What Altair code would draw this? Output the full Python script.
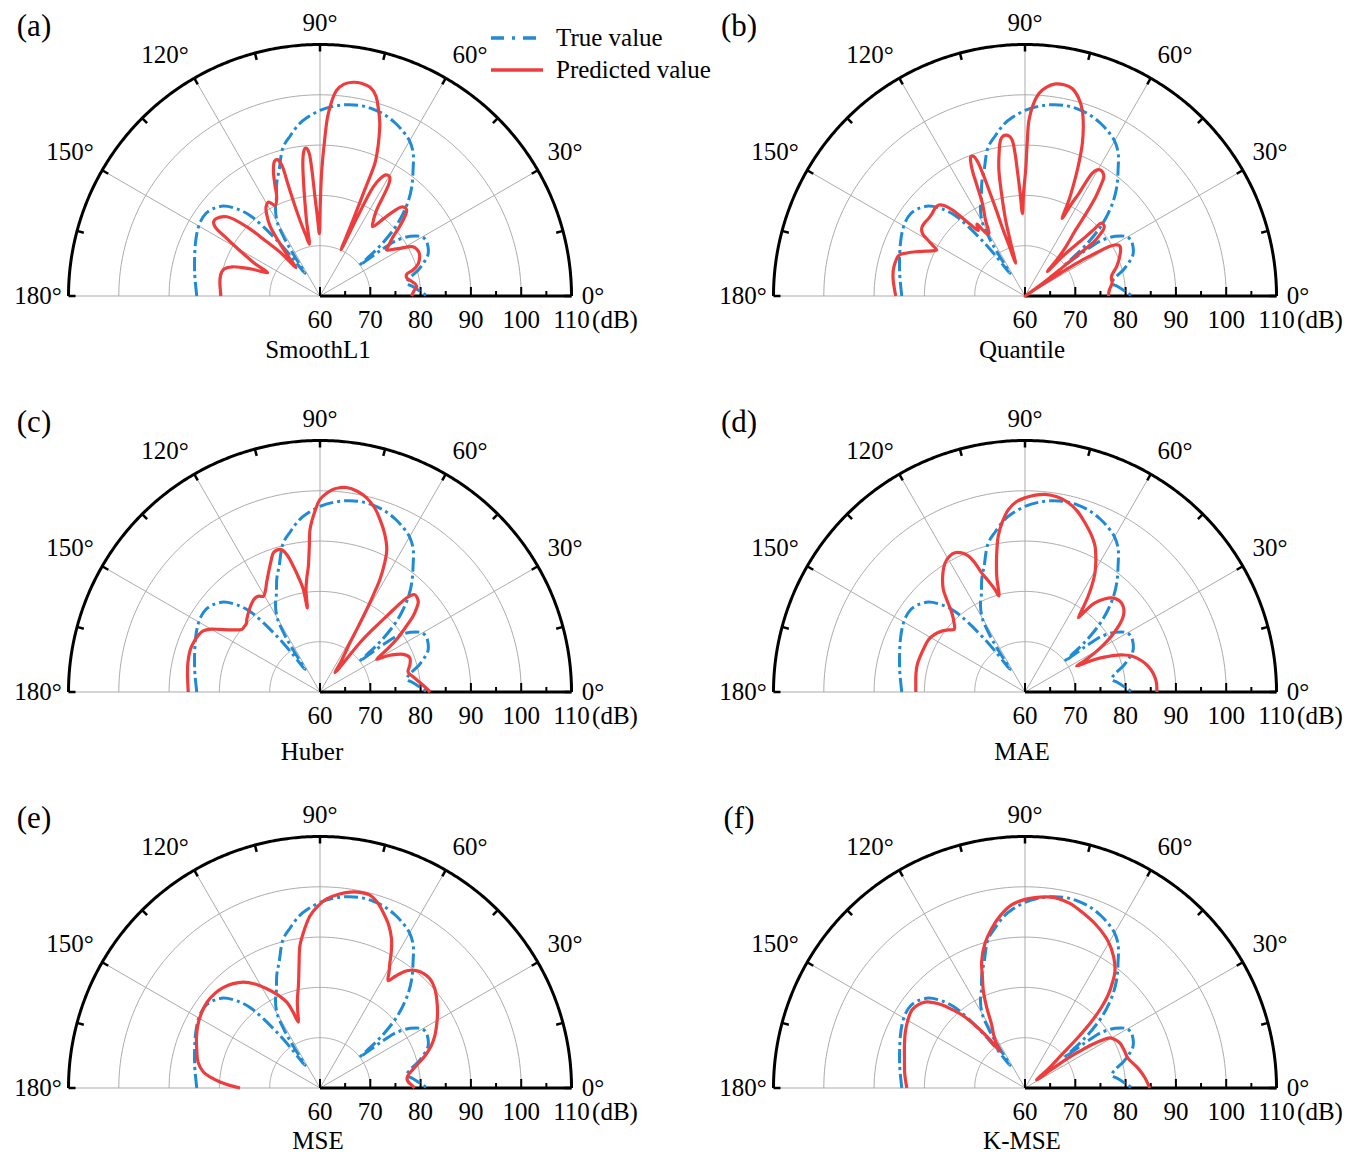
import altair as alt
import pandas as pd

# ---------------------------------------------------------------- style / layout
K = 5.03            # pixels per dB along the radius
CX, CY = 312, 288   # position of the polar centre inside each cell (px)
FONT = "Liberation Serif"
BLUE = "#1f8bd5"
RED = "#ee3d3d"
GRID = "#ababab"

# ---------------------------------------------------------------- axes content
ANGLE_LABELS = ["0°", "30°", "60°", "90°", "120°", "150°", "180°"]
ANGLE_LABEL_OFFSET_PX = [(273, 0), (245, 144), (150, 241), (0, 273),
                         (-155, 241), (-250, 144), (-282, 0)]
SPOKES = [30, 60, 90, 120, 150, 180]
RINGS_DB = [70, 80, 90, 100]
DB_TICKS = [60, 70, 80, 90, 100, 110]
DB_MINOR = [65, 75, 85, 95, 105]
ARC_TICKS = [0, 15, 30, 45, 60, 75, 90, 105, 120, 135, 150, 165, 180]

# ---------------------------------------------------------------- data: (angle deg, level dB)
TRUE_VALUE = [
    (180, 84.5), (172, 85.1), (168, 85.5), (162, 86.2), (157, 86.9), (152, 87.6), (148, 88.0),
    (144, 88.0), (141, 87.5), (137, 86.2), (133, 83.4), (130.7, 80.8), (129.3, 77.8),
    (127.5, 73.5), (126, 69.5), (123.5, 65.4), (122.6, 69.5), (121.7, 73.5), (120, 77.0),
    (117, 79.5), (114, 81.3), (111, 84.0), (108, 86.3), (104, 90.4), (100.5, 92.4), (97, 94.4),
    (94, 95.6), (90, 96.9), (86, 97.8), (82, 98.4), (78, 98.7), (74, 98.6), (70, 98.2),
    (66.5, 97.5), (63, 96.6), (60, 95.6), (57, 94.0), (53.5, 91.1), (50, 88.4), (47.2, 85.9),
    (44.2, 82.6), (42, 79.6), (39.8, 75.5), (38.6, 72.0), (37.8, 70.0), (37.2, 73.5),
    (36.8, 76.0), (36, 78.8), (33.5, 81.5), (30.5, 83.3), (28, 83.8), (24.5, 83.6), (21, 83.0),
    (18.5, 82.0), (14.8, 80.2), (11.5, 78.3), (8.5, 77.4), (5.7, 78.6), (3, 79.8), (0, 81.3),
]

PRED_SMOOTHL1 = [
    (180, 79.7), (172, 80.1), (168, 80.2), (164.6, 79.9), (161.5, 78.3), (160, 76.5), (158.2, 74.2),
    (156.1, 71.4), (153.5, 74.5), (151.8, 76.5), (150, 79.0), (148.3, 81.8), (146.6, 85.0),
    (145, 85.8), (143.1, 85.7), (139.6, 84.3), (136.6, 80.0), (134.5, 75.1), (132.3, 71.8),
    (130.3, 67.4), (128.6, 70.5), (127.2, 73.5), (125.6, 77.0), (123, 79.5), (121.2, 80.7),
    (118.7, 81.3), (116.3, 80.1), (113.6, 81.5), (112, 84.0), (110.3, 86.7), (108.6, 88.3),
    (107.4, 88.4), (106.3, 87.2), (106, 83.0), (105.6, 79.0), (104.6, 75.0), (103.2, 72.5),
    (101.6, 70.5), (100.2, 75.0), (99.2, 78.6), (98.3, 82.5), (97.4, 86.5), (96.6, 88.6),
    (95.8, 89.5), (95, 89.4), (94.3, 88.4), (93.6, 84.5), (92.9, 79.7), (91.8, 75.5),
    (90.6, 72.4), (89.8, 78.5), (89.2, 85.0), (88.3, 91.0), (87.4, 96.3), (85.4, 101.0),
    (83.5, 102.4), (81.2, 103.0), (79, 103.1), (76.6, 102.7), (74.5, 101.4), (72.9, 99.3),
    (71, 96.5), (69.6, 93.7), (68.2, 90.5), (67.5, 88.5), (67.1, 82.1), (66.4, 75.6),
    (65.5, 70.1), (64.7, 77.3), (64, 84.1), (62.8, 86.3), (61.5, 87.4), (59.6, 87.4),
    (58.5, 86.3), (57.6, 83.5), (56.6, 80.4), (54.5, 78.2), (52.8, 77.3), (50.5, 80.0),
    (49, 82.3), (47.5, 84.0), (45.8, 84.4), (44.4, 84.1), (42.4, 82.4), (40.5, 80.3),
    (39, 78.7), (36.5, 77.0), (34.6, 76.1), (32.5, 77.3), (30.8, 78.5), (27.9, 80.9),
    (24, 81.5), (21.5, 81.3), (18, 80.5), (15.6, 79.2), (14.2, 77.8), (12, 77.6), (10.1, 78.1),
    (7.5, 79.0), (5.5, 79.3), (3, 78.7), (0, 78.2),
]

PRED_QUANTILE = [
    (180, 85.7), (172, 86.5), (167.4, 86.7), (162, 86.3), (160, 85.0), (157.9, 83.4),
    (155.5, 81.5), (153.5, 80.2), (152.5, 79.8), (151.2, 81.0), (149.8, 82.6), (148.6, 83.9),
    (146.5, 84.6), (144.3, 84.7), (141, 84.6), (138.3, 84.7), (135.5, 85.0), (133.4, 84.9),
    (131.5, 83.9), (130.2, 82.4), (127.6, 78.2), (125.5, 76.0), (123.8, 77.2), (122.3, 75.2),
    (121, 74.3), (119.9, 74.4), (117.5, 77.0), (114.7, 80.3), (113.5, 84.0), (112.7, 87.2),
    (111.9, 89.0), (111.3, 89.7), (110.3, 89.6), (109.5, 88.5), (109, 85.5), (108.8, 82.3),
    (108.5, 78.0), (108.3, 73.9), (107.5, 70.5), (105.9, 66.8), (105, 71.0), (104.3, 75.6),
    (103, 80.5), (101.7, 85.6), (100.3, 88.8), (98.9, 91.4), (97.8, 92.1), (96.8, 92.2),
    (95.6, 91.9), (94.7, 91.1), (94, 88.5), (93.5, 85.1), (92.7, 80.5), (91.8, 76.4),
    (90.8, 80.5), (89.7, 85.0), (89.2, 90.2), (88.7, 95.0), (87.5, 98.2), (86, 100.4),
    (84, 101.8), (81.8, 102.6), (79.5, 102.7), (77.2, 102.3), (75, 100.9), (72.9, 98.7),
    (71, 95.6), (69.4, 92.4), (68.1, 89.0), (67, 85.8), (65.4, 81.0), (64.4, 77.1),
    (63.3, 80.3), (62.3, 83.0), (61.3, 87.8), (60.2, 88.9), (59, 89.2), (57.7, 89.0),
    (56.5, 88.4), (55.5, 86.5), (54.5, 84.2), (53.5, 80.5), (52.5, 76.5), (50.5, 73.0),
    (49.1, 70.3), (47.5, 66.6), (46.5, 70.8), (45.2, 74.0), (44.3, 76.9), (44, 79.0),
    (43.8, 80.9), (42.2, 81.1), (40.6, 80.7), (39.5, 79.5), (38.4, 77.9), (37.8, 72.7),
    (37.2, 69.0), (36.4, 65.9), (35.5, 62.5), (34.5, 60.0), (33.5, 64.0), (32.8, 68.5),
    (32.1, 73.5), (31.2, 76.5), (30.4, 79.4), (29.5, 80.6), (28.5, 81.2), (27, 81.3),
    (24.8, 80.9), (21, 80.0), (17.7, 79.1), (12.6, 77.6), (8.3, 77.5), (4, 76.8), (0, 76.6),
]

PRED_HUBER = [
    (180, 86.2), (172, 86.6), (167.5, 86.9), (163, 87.1), (160.3, 87.1), (156, 86.8),
    (152.4, 86.2), (150, 85.0), (147.9, 83.4), (144.5, 81.3), (141.3, 79.9), (139, 79.9),
    (137, 80.0), (135.2, 80.5), (131, 81.5), (127.4, 82.3), (124.6, 82.7), (122.5, 82.6),
    (120.6, 82.1), (118.5, 82.8), (116, 84.2), (113.4, 85.8), (110.5, 87.8), (108.5, 89.2),
    (106.7, 89.5), (105, 89.3), (103.5, 88.0), (102, 85.6), (100.5, 83.0), (99.2, 80.6),
    (98.6, 76.9), (97.8, 80.5), (96.5, 83.0), (95.3, 85.1), (94.2, 89.0), (93.5, 92.4),
    (91.7, 95.8), (90, 98.3), (88, 99.6), (86.2, 100.4), (84.5, 100.8), (82.6, 101.0),
    (79.5, 100.6), (76.5, 99.7), (73.5, 98.2), (70.8, 96.3), (67.8, 94.0), (64.9, 91.3),
    (63.3, 88.5), (62, 85.4), (61.2, 82.0), (60.5, 78.9), (59.7, 75.0), (58.7, 71.5),
    (55.5, 67.5), (52.1, 64.9), (51, 72.6), (49.8, 76.5), (48.7, 80.1), (47.4, 85.4),
    (46.5, 86.6), (45.8, 87.0), (44, 86.9), (42.3, 86.4), (40.8, 85.3), (39.2, 83.9),
    (36.8, 81.0), (34.5, 78.5), (32.2, 75.5), (30, 73.0), (28.8, 74.5), (27.7, 75.7),
    (24.3, 78.2), (20.9, 79.1), (17, 78.7), (13.5, 78.0), (12.3, 78.0), (9.5, 78.7),
    (6.4, 79.6), (3, 80.8), (0, 81.9),
]

PRED_MAE = [
    (180, 81.7), (175, 81.8), (170, 82.0), (165.5, 82.1), (161.1, 82.0), (156, 81.9),
    (151.4, 81.8), (147.5, 81.3), (143.8, 80.5), (141, 79.6), (138.4, 78.8), (135.5, 79.8),
    (132.8, 81.4), (130.5, 83.8), (128.5, 86.1), (125, 88.5), (121.7, 90.2), (119, 90.9),
    (116.7, 91.0), (114.5, 90.4), (112.6, 89.3), (111.2, 87.5), (110, 85.2), (108, 83.0),
    (106.3, 81.2), (105.2, 79.8), (103.8, 83.5), (101.8, 87.6), (99.7, 91.5), (97.5, 94.2),
    (95.2, 96.4), (92.5, 97.9), (90, 98.6), (87, 99.2), (84.2, 99.5), (80.5, 99.3),
    (77.1, 98.6), (73.8, 97.4), (70.5, 95.7), (67.3, 94.0), (64.4, 92.2), (61.8, 89.8),
    (59.6, 87.5), (58, 85.2), (56.6, 82.8), (55.5, 80.5), (54.3, 78.2), (53.2, 80.5),
    (51.9, 82.5), (49.5, 84.3), (47.4, 85.4), (45, 86.0), (42.7, 86.1), (40.2, 85.7),
    (37.7, 84.7), (35.2, 82.8), (32.9, 80.5), (31, 78.2), (29.3, 75.9), (27.8, 73.5),
    (26.7, 71.5), (25.8, 73.5), (25, 75.3), (23.5, 77.5), (22.2, 79.3), (20.5, 81.0),
    (18.6, 82.4), (15, 84.0), (11.9, 85.0), (8, 85.8), (4, 86.2), (0, 86.2),
]

PRED_MSE = [
    (180, 75.9), (178.5, 77.8), (176.6, 79.9), (174.5, 81.8), (172.2, 83.4), (168, 84.8),
    (163.7, 85.5), (158, 86.5), (152.9, 87.3), (147.5, 87.9), (142.8, 88.2), (138, 88.1),
    (133.8, 87.7), (129.8, 87.0), (125.9, 86.0), (122, 84.4), (118.2, 82.4), (114.5, 80.4),
    (111.2, 78.3), (109.5, 76.0), (108.2, 73.8), (106.5, 75.5), (104.5, 78.0), (101.9, 80.8),
    (99.8, 84.5), (98, 88.6), (95.5, 91.8), (93.3, 94.3), (90.6, 96.2), (88, 97.6),
    (84.5, 98.7), (81.3, 99.4), (78.5, 99.7), (75.5, 99.6), (72.8, 98.6), (70.2, 97.1),
    (67.2, 95.2), (64.4, 92.9), (62.4, 90.6), (60.9, 88.6), (59.2, 86.8), (57.6, 85.3),
    (56, 86.8), (54.3, 88.4), (52.5, 89.5), (50.6, 90.2), (47.8, 90.7), (44.8, 90.8),
    (41, 90.2), (37.4, 89.2), (32.8, 87.8), (28.2, 86.3), (24.5, 85.1), (20.9, 83.7),
    (17, 81.8), (13.2, 79.7), (10.5, 78.5), (8.2, 77.7), (6, 77.4), (3.9, 77.6), (2, 78.2),
    (0, 78.8),
]

PRED_KMSE = [
    (180, 83.5), (173, 84.1), (166, 84.7), (160, 85.5), (154.7, 86.3), (150, 86.9),
    (145.4, 87.3), (142, 86.9), (139.3, 86.2), (137, 84.9), (135, 83.4), (133, 81.4),
    (130.8, 79.2), (129, 76.7), (127.4, 74.2), (125.8, 71.5), (124.3, 68.8), (122.8, 70.5),
    (120.5, 72.3), (117.8, 74.2), (115.5, 77.6), (113.3, 80.9), (110.8, 83.9), (108.9, 86.6),
    (105.5, 89.8), (101.8, 92.4), (98, 94.7), (94.2, 96.5), (90.5, 97.4), (87, 97.9),
    (84, 98.2), (81.1, 98.3), (76.5, 97.8), (72.2, 96.8), (66.5, 95.4), (60.4, 93.5),
    (56, 91.5), (52.4, 89.3), (50.2, 87.1), (48.2, 84.8), (46.5, 82.0), (45, 78.7),
    (43.6, 74.4), (42.2, 69.8), (39.5, 66.2), (35.4, 62.8), (34.9, 66.5), (34.7, 70.5),
    (33.8, 73.3), (33, 75.8), (31.8, 78.0), (30.5, 79.6), (28, 80.4), (25.3, 80.9),
    (20.5, 81.1), (16.2, 81.3), (13, 82.0), (10, 82.8), (5, 83.9), (0, 84.8),
]

# letter, loss name, predicted series, cell width, cell height, title offset (px), legend?
PANELS = [
    ("(a)", "SmoothL1", PRED_SMOOTHL1, 705, 396, (-2, 54), True),
    ("(b)", "Quantile", PRED_QUANTILE, 640, 396, (-3, 54), False),
    ("(c)", "Huber", PRED_HUBER, 705, 396, (-8, 60), False),
    ("(d)", "MAE", PRED_MAE, 640, 396, (-3, 60), False),
    ("(e)", "MSE", PRED_MSE, 705, 350, (-2, 53), False),
    ("(f)", "K-MSE", PRED_KMSE, 640, 350, (-3, 53), False),
]


def pol(ch):
    return ch.transform_calculate(rr="max(datum.db - 60, 0)").transform_calculate(
        x="datum.rr * cos(datum.ang * PI / 180)",
        y="datum.rr * sin(datum.ang * PI / 180)",
    )


def series_df(pairs):
    return pd.DataFrame({"i": list(range(len(pairs))),
                         "ang": [p[0] for p in pairs],
                         "db": [p[1] for p in pairs]})


def panel(letter, title, pred, width, height, toff, legend):
    xs = alt.Scale(domain=[-CX / K, (width - CX) / K], nice=False, zero=False)
    ys = alt.Scale(domain=[-(height - CY) / K, CY / K], nice=False, zero=False)

    def X(f):
        return alt.X(f"{f}:Q", scale=xs, axis=None)

    def Y(f):
        return alt.Y(f"{f}:Q", scale=ys, axis=None)

    layers = []
    # grid rings
    rings = pd.DataFrame([(a, d) for d in RINGS_DB for a in range(0, 181)], columns=["ang", "db"])
    layers.append(pol(alt.Chart(rings)).mark_line(stroke=GRID, strokeWidth=1).encode(
        x=X("x"), y=Y("y"), detail="db:N", order="ang:Q"))
    # radial spokes
    spokes = pd.DataFrame({"ang": SPOKES, "db": [110] * len(SPOKES)})
    layers.append(pol(alt.Chart(spokes)).transform_calculate(x0="0", y0="0").mark_rule(
        stroke=GRID, strokeWidth=1).encode(x=X("x0"), y=Y("y0"), x2="x:Q", y2="y:Q"))
    # outer arc
    arc = pd.DataFrame({"ang": [i / 2 for i in range(361)], "db": [110] * 361})
    layers.append(pol(alt.Chart(arc)).mark_line(stroke="black", strokeWidth=3).encode(
        x=X("x"), y=Y("y"), order="ang:Q"))
    # radial axis (0° side)
    base = pd.DataFrame({"ang": [0], "db": [110]})
    layers.append(pol(alt.Chart(base)).transform_calculate(x0="0", y0="0").mark_rule(
        stroke="black", strokeWidth=3).encode(x=X("x0"), y=Y("y0"), x2="x:Q", y2="y:Q"))
    # ticks on the arc (pointing inward)
    at = pd.DataFrame({"ang": ARC_TICKS, "db": [110] * len(ARC_TICKS)})
    tl = 50 - 7 / K
    layers.append(pol(alt.Chart(at)).transform_calculate(
        xi=f"{tl} * cos(datum.ang * PI / 180)", yi=f"{tl} * sin(datum.ang * PI / 180)"
    ).mark_rule(stroke="black", strokeWidth=2.5).encode(
        x=X("x"), y=Y("y"), x2="xi:Q", y2="yi:Q"))
    # ticks on the radial axis
    rt = pd.DataFrame({"db": DB_TICKS + DB_MINOR,
                       "h": [9 / K] * len(DB_TICKS) + [5 / K] * len(DB_MINOR)})
    layers.append(alt.Chart(rt).transform_calculate(x="datum.db - 60", y0="0").mark_rule(
        stroke="black", strokeWidth=2).encode(x=X("x"), y=Y("y0"), y2="h:Q"))
    # curves
    layers.append(pol(alt.Chart(series_df(TRUE_VALUE))).mark_line(
        stroke=BLUE, strokeWidth=3, strokeDash=[14, 4, 3, 4], interpolate="catmull-rom"
    ).encode(x=X("x"), y=Y("y"), order="i:Q"))
    layers.append(pol(alt.Chart(series_df(pred))).mark_line(
        stroke=RED, strokeWidth=3.2, interpolate="catmull-rom"
    ).encode(x=X("x"), y=Y("y"), order="i:Q"))
    # angle labels
    al = pd.DataFrame({"x": [o[0] / K for o in ANGLE_LABEL_OFFSET_PX],
                       "y": [o[1] / K for o in ANGLE_LABEL_OFFSET_PX],
                       "t": ANGLE_LABELS})
    layers.append(alt.Chart(al).mark_text(font=FONT, fontSize=25, color="black",
                                          align="center", baseline="middle").encode(
        x=X("x"), y=Y("y"), text="t:N"))
    # radial labels
    rl = pd.DataFrame({"x": [d - 60 for d in DB_TICKS] + [295 / K],
                       "y": [-24 / K] * (len(DB_TICKS) + 1),
                       "t": [str(d) for d in DB_TICKS] + ["(dB)"]})
    layers.append(alt.Chart(rl).mark_text(font=FONT, fontSize=25, color="black",
                                          align="center", baseline="middle").encode(
        x=X("x"), y=Y("y"), text="t:N"))
    # title and panel letter
    tt = pd.DataFrame({"x": [toff[0] / K], "y": [-toff[1] / K], "t": [title]})
    layers.append(alt.Chart(tt).mark_text(font=FONT, fontSize=25, color="black",
                                          align="center", baseline="middle").encode(
        x=X("x"), y=Y("y"), text="t:N"))
    lt = pd.DataFrame({"x": [-286 / K], "y": [269 / K], "t": [letter]})
    layers.append(alt.Chart(lt).mark_text(font=FONT, fontSize=31, color="black",
                                          align="center", baseline="middle").encode(
        x=X("x"), y=Y("y"), text="t:N"))
    if legend:
        lb = pd.DataFrame({"x": [171 / K], "x2": [222 / K], "y": [258 / K]})
        layers.append(alt.Chart(lb).mark_rule(stroke=BLUE, strokeWidth=3.5,
                                              strokeDash=[13, 8, 3, 8]).encode(
            x=X("x"), x2="x2:Q", y=Y("y")))
        lr = pd.DataFrame({"x": [171 / K], "x2": [223 / K], "y": [226 / K]})
        layers.append(alt.Chart(lr).mark_rule(stroke=RED, strokeWidth=3.5).encode(
            x=X("x"), x2="x2:Q", y=Y("y")))
        lg = pd.DataFrame({"x": [236 / K, 236 / K], "y": [258 / K, 226 / K],
                           "t": ["True value", "Predicted value"]})
        layers.append(alt.Chart(lg).mark_text(font=FONT, fontSize=25, color="black",
                                              align="left", baseline="middle").encode(
            x=X("x"), y=Y("y"), text="t:N"))
    return alt.layer(*layers).properties(width=width, height=height)


cells = [panel(*p) for p in PANELS]
chart = alt.concat(*cells, columns=2, spacing=0, bounds="flush").properties(
    padding=0, background="white"
).configure_view(stroke=None)

chart.save("out.html", embed_options={"renderer": "svg", "actions": False})
